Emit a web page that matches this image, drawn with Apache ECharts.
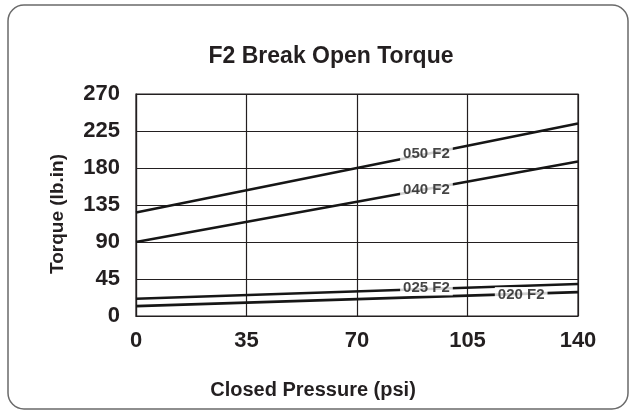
<!DOCTYPE html>
<html>
<head>
<meta charset="utf-8">
<script src="https://cdn.jsdelivr.net/npm/echarts@6/dist/echarts.min.js"></script>
<style>
  html, body { margin: 0; padding: 0; background: #fff; }
  #main { width: 631px; height: 412px; }
</style>
</head>
<body>
<div id="main"></div>
<script>
// data
var pressure = [0, 140]
var torque050 = [126, 234]
var torque040 = [90, 188]
var torque025 = [21, 39]
var torque020 = [12, 29]
var yTicks = [0, 45, 90, 135, 180, 225, 270]
var xTicks = [0, 35, 70, 105, 140]
// where the curve names sit on each line
var labelNames = ['050 F2', '040 F2', '025 F2', '020 F2']
var labelX = [92, 92, 92, 122]
var labelY = [197, 154, 34, 26]

function pairs(ys) {
  return pressure.map(function (x, i) { return [x, ys[i]] })
}

var chart = echarts.init(document.getElementById('main'))

var lineSeries = [torque050, torque040, torque025, torque020].map(function (ys, i) {
  return {
    name: labelNames[i],
    type: 'line',
    data: pairs(ys),
    symbol: 'none',
    lineStyle: { color: '#161616', width: 2.6 },
    z: 3
  }
})

var labelSeries = {
  type: 'scatter',
  symbolSize: 0,
  z: 5,
  data: labelNames.map(function (n, i) { return [labelX[i], labelY[i], n] }),
  label: {
    show: true,
    position: 'inside',
    formatter: function (p) { return p.value[2] },
    color: '#161616',
    fontFamily: 'Liberation Sans',
    fontWeight: 'bold',
    fontSize: 15,
    backgroundColor: '#fff',
    padding: [0, 3]
  }
}

var option = {
  animation: false,
  backgroundColor: '#fff',
  graphic: [
    {
      type: 'rect',
      shape: { x: 8, y: 5, width: 620, height: 404, r: 16 },
      style: { fill: 'none', stroke: '#6a6a6a', lineWidth: 1.5 },
      z: -1
    },
    {
      type: 'text',
      x: 331, y: 57,
      style: {
        text: 'F2 Break Open Torque',
        textAlign: 'center', textVerticalAlign: 'middle',
        font: 'bold 23px "Liberation Sans", Arial, sans-serif',
        fill: '#231f20'
      }
    },
    {
      type: 'text',
      x: 313, y: 390,
      style: {
        text: 'Closed Pressure (psi)',
        textAlign: 'center', textVerticalAlign: 'middle',
        font: 'bold 20px "Liberation Sans", Arial, sans-serif',
        fill: '#231f20'
      }
    },
    {
      type: 'text',
      x: 58, y: 214,
      rotation: Math.PI / 2,
      style: {
        text: 'Torque (lb.in)',
        textAlign: 'center', textVerticalAlign: 'middle',
        font: 'bold 19px "Liberation Sans", Arial, sans-serif',
        fill: '#231f20'
      }
    }
  ],
  grid: {
    left: 136, right: 53, top: 94, bottom: 96,
    show: true, borderColor: '#231f20', borderWidth: 1.2
  },
  xAxis: {
    type: 'value',
    min: xTicks[0], max: xTicks[xTicks.length - 1], interval: 35,
    axisLine: { show: true, lineStyle: { color: '#231f20', width: 1.2 } },
    axisTick: { show: false },
    splitLine: { show: true, lineStyle: { color: '#231f20', width: 1.2 } },
    axisLabel: {
      margin: 14,
      color: '#231f20',
      fontFamily: 'Liberation Sans',
      fontWeight: 'bold',
      fontSize: 22
    }
  },
  yAxis: {
    type: 'value',
    min: yTicks[0], max: yTicks[yTicks.length - 1], interval: 45,
    axisLine: { show: true, lineStyle: { color: '#231f20', width: 1.2 } },
    axisTick: { show: false },
    splitLine: { show: true, lineStyle: { color: '#231f20', width: 1.2 } },
    axisLabel: {
      margin: 16,
      color: '#231f20',
      fontFamily: 'Liberation Sans',
      fontWeight: 'bold',
      fontSize: 22
    }
  },
  series: lineSeries.concat([labelSeries])
}

chart.setOption(option)
</script>
</body>
</html>
